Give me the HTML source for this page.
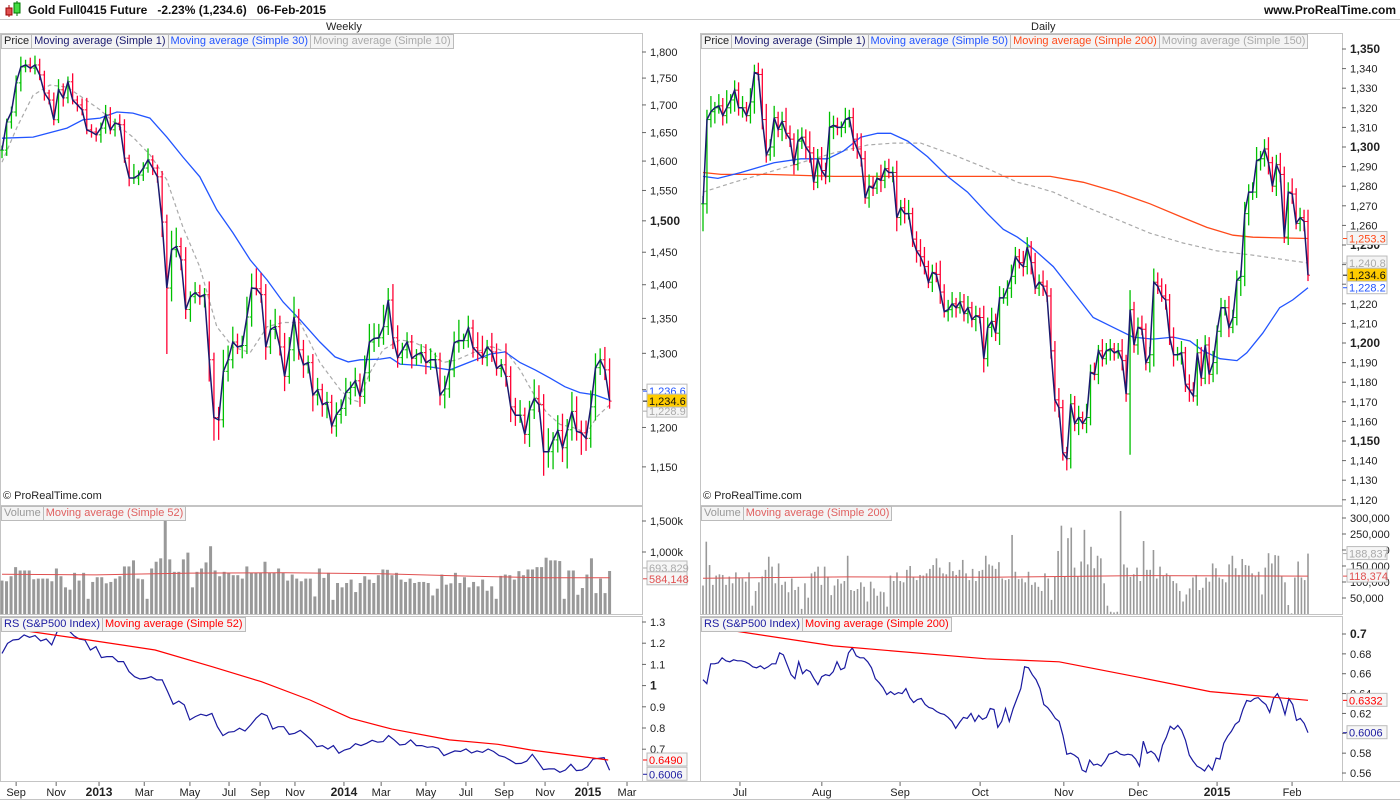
<!DOCTYPE html>
<html><head><meta charset="utf-8">
<style>
html,body{margin:0;padding:0;background:#fff;}
body{width:1400px;height:800px;position:relative;overflow:hidden;font-family:"Liberation Sans",sans-serif;}
.hdr{position:absolute;left:0;top:0;width:1400px;height:19px;border-bottom:1px solid #c8c8c8;}
.ttl{position:absolute;left:28px;top:3px;font-size:12px;font-weight:bold;color:#111;white-space:pre;}
.site{position:absolute;right:4px;top:3px;font-size:12px;font-weight:bold;color:#111;}
.ptitle{position:absolute;top:21px;font-size:11px;color:#222;}
.leg{position:absolute;font-size:11px;white-space:nowrap;height:13px;line-height:13px;}
.leg span{display:inline-block;border:1px solid #bbb;background:#f4f4f4;padding:0 2px;margin-right:-1px;}
.copy{position:absolute;font-size:11px;color:#222;}
svg{position:absolute;left:0;top:0;}
</style></head>
<body>
<div class="hdr">
  <svg width="20" height="19" style="left:4px;top:0">
    <line x1="5" y1="5" x2="5" y2="17" stroke="#a00"/><rect x="2" y="8" width="6" height="7" fill="#e05050" stroke="#900"/>
    <line x1="13" y1="1" x2="13" y2="16" stroke="#070"/><rect x="10" y="3" width="6" height="10" fill="#44dd44" stroke="#070"/>
  </svg>
  <div class="ttl">Gold Full0415 Future   -2.23% (1,234.6)   06-Feb-2015</div>
  <div class="site">www.ProRealTime.com</div>
</div>
<div class="ptitle" style="left:326px">Weekly</div>
<div class="ptitle" style="left:1031px">Daily</div>

<svg id="ch" width="1400" height="800"></svg>

<div class="leg" style="left:1px;top:34px"><span style="color:#222">Price</span><span style="color:#1a1a6e">Moving average (Simple 1)</span><span style="color:#2255ff">Moving average (Simple 30)</span><span style="color:#aaa">Moving average (Simple 10)</span></div>
<div class="leg" style="left:701px;top:34px"><span style="color:#222">Price</span><span style="color:#1a1a6e">Moving average (Simple 1)</span><span style="color:#2255ff">Moving average (Simple 50)</span><span style="color:#ff4a1a">Moving average (Simple 200)</span><span style="color:#aaa">Moving average (Simple 150)</span></div>
<div class="leg" style="left:1px;top:506px"><span style="color:#999">Volume</span><span style="color:#e06060">Moving average (Simple 52)</span></div>
<div class="leg" style="left:701px;top:506px"><span style="color:#999">Volume</span><span style="color:#e06060">Moving average (Simple 200)</span></div>
<div class="leg" style="left:1px;top:617px"><span style="color:#1a1aa0">RS (S&amp;P500 Index)</span><span style="color:#ff0000">Moving average (Simple 52)</span></div>
<div class="leg" style="left:701px;top:617px"><span style="color:#1a1aa0">RS (S&amp;P500 Index)</span><span style="color:#ff0000">Moving average (Simple 200)</span></div>
<div class="copy" style="left:3px;top:490px">© ProRealTime.com</div>
<div class="copy" style="left:703px;top:490px">© ProRealTime.com</div>

<script>
// ---------- WEEKLY DATA ----------
const wkClose=[1619,1669,1687,1741,1771,1775,1769,1775,1756,1722,1709,1673,1728,1713,1743,1709,1700,1691,1655,1651,1646,1658,1682,1655,1667,1664,1605,1571,1571,1576,1588,1602,1588,1573,1498,1395,1454,1459,1438,1363,1382,1388,1382,1385,1291,1213,1210,1275,1291,1316,1309,1311,1352,1395,1394,1385,1309,1334,1338,1309,1268,1305,1352,1305,1284,1287,1243,1250,1230,1233,1202,1217,1225,1246,1253,1262,1241,1273,1316,1321,1322,1338,1377,1322,1294,1305,1316,1293,1298,1301,1287,1291,1291,1243,1251,1277,1315,1318,1318,1336,1308,1301,1294,1309,1302,1279,1284,1268,1227,1216,1216,1191,1223,1238,1230,1169,1169,1184,1196,1174,1197,1221,1195,1193,1186,1227,1280,1291,1277,1234.6];
const wkUp=[8,6,10,14,20,10,14,18,12,8,6,14,20,12,10,16,8,12,22,10,8,10,18,14,8,16,10,6,24,8,10,20,8,6,10,12,30,30,14,20,8,16,12,10,20,10,14,30,20,22,12,14,30,22,30,24,16,14,26,16,20,18,30,12,14,10,12,16,8,14,10,16,12,20,8,18,10,24,26,22,20,32,18,24,18,10,14,10,8,12,12,16,10,10,18,14,16,30,10,18,12,22,24,10,20,12,8,30,14,12,20,10,12,26,18,14,30,10,20,22,14,26,20,14,16,22,20,16,18,16];
const wkDn=[14,10,12,8,16,10,8,12,10,14,8,10,6,16,10,8,12,10,8,10,12,14,10,8,12,10,8,14,10,12,10,8,12,10,24,96,20,12,16,14,18,10,12,16,30,30,26,10,14,12,10,16,12,14,10,12,18,10,14,12,20,10,16,14,18,12,22,14,16,18,10,14,12,10,16,12,14,10,12,14,12,10,12,16,14,10,12,14,10,12,16,10,12,14,18,12,10,14,12,10,14,12,10,12,14,10,12,14,20,14,10,12,16,12,10,30,20,22,16,18,26,14,12,28,16,12,18,10,14,10];
const wkMa30Idx=[0,6.6,13.8,17.2,20.8,24.4,27.8,31.4,35,38.4,42,45.6,49,52.7,56.3,59.7,63.3,67.5,70.7,73.5,76,80.3,82.4,84.5,88.7,93,95.1,99.4,103.6,106.8,110,113.2,116.3,119.5,122.7,125.9,128.7];
const wkMa30=[1640,1642,1658,1673,1676,1687,1685,1676,1642,1607,1573,1518,1481,1438,1407,1374,1348,1316,1295,1288,1291,1292,1294,1285,1283,1279,1277,1288,1299,1302,1287,1277,1266,1254,1246,1243,1236.6];
const wkMa10Idx=[0,3.2,6.6,10.2,13.8,17.2,20.8,24.4,27.8,31.4,35,38.4,42,45.6,49,52.7,56.3,59.7,63.3,67.5,71.8,73.9,75.6,78.1,80.9,84.5,87.3,90.9,93.6,96.6,100,104.2,107.2,110,112.7,115.7,118.5,121.2,124.2,126.3,128.9];
const wkMa10=[1598,1660,1718,1737,1733,1713,1691,1664,1642,1611,1568,1490,1427,1338,1309,1301,1338,1344,1344,1287,1250,1237,1234,1273,1305,1319,1316,1305,1287,1291,1301,1309,1301,1277,1246,1219,1204,1200,1193,1214,1228.9];
const wkVol=[539,528,609,756,702,702,702,560,571,571,571,528,734,609,430,392,664,539,664,245,517,593,593,495,517,571,609,767,767,865,571,560,245,734,843,898,1518,881,680,680,881,990,430,680,734,832,1093,702,609,680,664,626,626,571,767,664,664,664,843,664,664,734,664,539,636,571,528,571,571,283,734,582,664,228,500,430,500,555,354,500,609,555,500,626,718,713,626,664,555,517,571,500,517,517,500,299,408,636,473,495,664,500,593,430,517,446,555,375,446,245,615,636,626,555,691,626,718,718,756,756,908,865,865,854,245,702,702,310,419,636,898,337,571,337,693.8];
const wkVolMaIdx=[0,20,40,60,80,100,115,129];
const wkVolMa=[640,630,660,665,650,610,585,584];
const wkRs=[1.152,1.199,1.215,1.218,1.239,1.228,1.236,1.211,1.220,1.192,1.255,1.267,1.262,1.236,1.220,1.215,1.168,1.184,1.132,1.137,1.137,1.113,1.113,1.066,1.042,1.031,1.034,1.042,1.027,1.027,0.971,0.912,0.927,0.909,0.838,0.854,0.865,0.858,0.869,0.806,0.764,0.780,0.783,0.799,0.786,0.814,0.846,0.869,0.858,0.795,0.806,0.806,0.770,0.775,0.789,0.767,0.744,0.712,0.717,0.701,0.717,0.681,0.696,0.704,0.726,0.717,0.728,0.742,0.733,0.736,0.764,0.744,0.720,0.723,0.744,0.717,0.717,0.709,0.712,0.704,0.670,0.681,0.692,0.689,0.701,0.682,0.692,0.685,0.701,0.689,0.670,0.663,0.648,0.632,0.633,0.644,0.676,0.641,0.604,0.607,0.607,0.591,0.602,0.629,0.599,0.602,0.618,0.654,0.657,0.660,0.6006];
const wkRsMaIdx=[5,17,32.5,44.6,55,65.4,74,82.8,95,105.3,112.3,128.7];
const wkRsMa=[1.258,1.220,1.168,1.089,1.019,0.932,0.846,0.795,0.744,0.723,0.696,0.649];
const wkPriceTicks=[1150,1200,1250,1300,1350,1400,1450,1500,1550,1600,1650,1700,1750,1800];
const wkVolTicks=[1000,1500];
const wkRsTicks=[0.7,0.8,0.9,1,1.1,1.2,1.3];
const wkDateLabels=["Sep","Nov","2013","Mar","May","Jul","Sep","Nov","2014","Mar","May","Jul","Sep","Nov","2015","Mar"];
const wkDateIdx=[3.0,11.5,20.6,30.2,39.9,48.2,54.8,62.2,72.6,80.5,90.0,98.5,106.6,115.3,124.4,132.7];

// ---------- DAILY DATA ----------
const dyClose=[1271,1314,1318,1320,1321,1316,1320,1324,1329,1320,1320,1316,1323,1338,1337,1314,1296,1300,1315,1309,1313,1307,1304,1291,1303,1305,1300,1297,1282,1294,1288,1285,1310,1311,1310,1310,1314,1315,1304,1299,1294,1274,1280,1279,1284,1283,1289,1287,1287,1264,1269,1266,1266,1253,1247,1244,1239,1231,1236,1235,1226,1216,1217,1220,1218,1221,1215,1218,1212,1214,1213,1192,1208,1211,1205,1223,1223,1228,1234,1244,1241,1239,1249,1241,1228,1231,1229,1224,1196,1171,1167,1144,1141,1169,1159,1162,1159,1162,1185,1184,1196,1192,1196,1197,1195,1196,1191,1174,1217,1199,1208,1207,1190,1194,1231,1229,1224,1222,1203,1194,1194,1195,1179,1176,1173,1195,1182,1199,1184,1190,1206,1218,1218,1208,1213,1232,1234,1266,1277,1277,1293,1294,1299,1292,1280,1291,1286,1254,1277,1276,1261,1264,1262,1234.6];
const dyUp=[4,5,8,3,6,4,9,3,5,4,6,3,7,4,5,3,8,4,6,3,5,7,4,3,6,5,4,8,3,5,6,4,8,5,4,3,6,4,5,3,8,4,6,5,3,7,4,5,3,6,4,5,7,3,4,6,5,3,4,5,7,4,5,6,3,5,4,6,3,5,4,6,5,7,4,6,5,4,6,5,4,6,5,3,5,4,6,3,4,5,6,4,3,5,4,6,3,7,4,5,3,6,4,5,3,4,6,3,10,4,5,6,3,4,7,5,4,6,3,5,4,6,3,5,4,7,3,5,4,6,3,5,4,6,4,5,3,6,4,5,7,4,5,6,3,5,6,4,5,7,3,5,4,6];
const dyDn=[14,5,4,6,3,5,4,3,6,4,5,3,4,6,3,5,4,3,5,4,6,3,4,5,3,4,6,5,4,3,5,4,3,6,4,5,3,4,6,5,4,3,5,4,3,6,4,3,5,7,4,5,3,4,6,5,4,3,5,4,6,3,5,4,5,3,4,5,4,6,3,7,4,5,4,6,3,4,5,4,3,5,4,6,3,4,5,3,4,6,5,4,6,5,4,6,3,5,4,3,5,4,3,5,4,3,5,4,31,4,5,3,4,5,6,4,3,5,4,6,3,5,4,6,3,5,4,3,5,4,6,3,4,5,3,4,8,5,6,4,3,5,4,6,3,5,4,3,4,5,3,4,5,3];
const dyMa50Idx=[0,4.1,10.5,16,19.6,27,34.4,38.8,43.5,48.2,51.8,56.5,62,67.5,73,78.5,82.9,86.8,91.2,96.7,102.2,107.7,113.2,118.7,124.2,129.8,134.4,138,142.7,147.4,150.1,154.5,159.2,162.8,167];
const dyMa50=[1285,1284,1287,1290,1292,1294,1294,1298,1305,1307,1307,1303,1295,1285,1277,1266,1258,1254,1248,1239,1226,1213,1208,1203,1202,1203,1201,1196,1192,1191,1195,1205,1218,1222,1228.2];
const dyMa200Idx=[0,5,17.9,36.1,54.5,87.6,95.9,105,114.3,123.4,132.5,139.1,146.3,151.8,167];
const dyMa200=[1287,1286,1286,1285,1285,1285,1285,1282,1277,1271,1264,1259,1255,1254,1253.3];
const dyMa150Idx=[0,8.5,17.9,27,36.1,45.5,52.6,60.1,69.1,78.5,86.8,91.2,96.7,105,114.3,123.4,132.5,141.9,151,167];
const dyMa150=[1277,1282,1287,1292,1297,1301,1302,1302,1296,1289,1282,1280,1277,1270,1263,1256,1251,1247,1245,1240.8];
const dyVol=[89,226,153,91,120,124,122,91,117,96,130,114,111,101,130,26,72,99,117,138,179,148,96,158,91,101,68,111,75,85,16,96,51,127,132,148,91,148,117,59,89,109,95,103,182,75,72,78,99,85,39,101,80,57,70,68,23,120,103,130,103,99,138,150,114,106,122,120,127,141,153,174,145,127,124,162,134,122,138,169,127,106,141,103,134,138,182,155,151,141,162,111,106,109,247,132,109,111,99,132,91,99,85,72,127,111,44,117,197,276,117,237,270,145,117,164,263,155,210,143,182,174,96,26,7,5,7,322,155,145,116,124,145,103,228,138,138,200,111,148,120,127,120,103,96,72,39,61,80,114,122,75,82,114,101,158,143,114,109,99,155,182,143,122,172,153,151,127,117,132,61,145,190,158,184,182,117,99,28,2,114,164,114,106,188.8];
const dyVolMaIdx=[0,40,80,120,167];
const dyVolMa=[112,116,115,120,118.4];
const dyRs=[0.654,0.650,0.670,0.670,0.671,0.676,0.673,0.672,0.674,0.673,0.673,0.672,0.670,0.667,0.666,0.668,0.665,0.667,0.670,0.670,0.681,0.679,0.669,0.659,0.655,0.672,0.660,0.664,0.662,0.655,0.649,0.657,0.659,0.658,0.662,0.672,0.664,0.666,0.681,0.686,0.678,0.676,0.676,0.672,0.666,0.655,0.651,0.646,0.639,0.642,0.639,0.641,0.640,0.645,0.636,0.631,0.634,0.635,0.629,0.626,0.625,0.622,0.620,0.619,0.616,0.612,0.605,0.611,0.616,0.615,0.620,0.612,0.618,0.614,0.616,0.625,0.624,0.606,0.612,0.625,0.612,0.625,0.635,0.645,0.667,0.666,0.659,0.654,0.645,0.629,0.626,0.621,0.615,0.612,0.598,0.579,0.580,0.578,0.575,0.563,0.561,0.573,0.568,0.569,0.567,0.572,0.579,0.580,0.582,0.579,0.578,0.579,0.578,0.574,0.567,0.592,0.580,0.582,0.579,0.572,0.588,0.596,0.607,0.604,0.608,0.603,0.593,0.578,0.572,0.567,0.565,0.562,0.568,0.563,0.575,0.574,0.590,0.597,0.602,0.609,0.612,0.624,0.633,0.632,0.635,0.636,0.632,0.629,0.621,0.635,0.640,0.632,0.619,0.635,0.629,0.613,0.615,0.610,0.6006];
const dyRsMaIdx=[8.8,36,78.2,98.3,120.9,140,167];
const dyRsMa=[0.703,0.688,0.675,0.672,0.656,0.642,0.6332];
const dyPriceTicks=[1120,1130,1140,1150,1160,1170,1180,1190,1200,1210,1220,1230,1240,1250,1260,1270,1280,1290,1300,1310,1320,1330,1340,1350];
const dyVolTicks=[50,100,150,200,250,300];
const dyRsTicks=[0.56,0.58,0.6,0.62,0.64,0.66,0.68,0.7];
const dyDateLabels=["Jul","Aug","Sep","Oct","Nov","Dec","2015","Feb"];
const dyDateIdx=[10.2,32.8,54.4,76.5,99.6,120.1,141.9,162.6];

// ---------- AXES ----------
const xW=i=>2+i*4.71;
const yWP=v=>52+926*Math.log(1800/v);
const yWV=v=>614-v*0.062;
const yWR=v=>622+(1.3-v)*212;
const xD=i=>703+i*605/167;
const yDP=v=>49+(1350-v)*1.96;
const yDV=v=>614-v*0.32;
const yDR=v=>634+(0.7-v)*993;

const NS="http://www.w3.org/2000/svg";
const svg=document.getElementById('ch');
function add(p,tag,a){const e=document.createElementNS(NS,tag);for(const k in a)e.setAttribute(k,a[k]);p.appendChild(e);return e;}
function grp(name){const g=add(svg,'g',{});return g;}
const fmt=(v,d)=>v.toLocaleString('en-US',{minimumFractionDigits:d,maximumFractionDigits:d});

// frames
const frames=[[0,33,642,472,'weekly-price-pane'],[0,506,642,108,'weekly-volume-pane'],[0,616,642,165,'weekly-rs-pane'],
[700,33,642,472,'daily-price-pane'],[700,506,642,108,'daily-volume-pane'],[700,616,642,165,'daily-rs-pane']];
for(const f of frames){
  const r=add(svg,'rect',{x:f[0]+0.5,y:f[1]+0.5,width:f[2],height:f[3],fill:'#fff',stroke:'#c4c4c4'});
  
  
}
add(svg,'line',{x1:0,y1:781.5,x2:1400,y2:781.5,stroke:'#c4c4c4'});
add(svg,'line',{x1:0,y1:799.5,x2:1400,y2:799.5,stroke:'#c4c4c4'});

function yTicks(g,ticks,yf,x0,lab,boldSet,dec){
  for(const t of ticks){
    const y=yf(t);
    add(g,'line',{x1:x0,y1:y,x2:x0+4,y2:y,stroke:'#666'});
    const tx=add(g,'text',{x:x0+8,y:y+4,'font-size':bold(t)?12:11,'font-weight':bold(t)?'bold':'normal',fill:'#222','font-family':'Liberation Sans, sans-serif'});
    tx.textContent=lab(t);
    
    
  }
  function bold(t){return boldSet.includes(t);}
}
function xTicks(g,labels,idx,xf){
  labels.forEach((l,i)=>{
    const x=xf(idx[i]);
    add(g,'line',{x1:x,y1:782,x2:x,y2:786,stroke:'#666'});
    const b=/^\d{4}$/.test(l);
    const t=add(g,'text',{x:x,y:796,'text-anchor':'middle','font-size':b?12:11,'font-weight':b?'bold':'normal',fill:'#222','font-family':'Liberation Sans, sans-serif'});
    t.textContent=l;
    
    
  });
}
function line(g,idx,vals,xf,yf,st,name){
  const pts=vals.map((v,i)=>xf(idx?idx[i]:i).toFixed(1)+','+yf(v).toFixed(1)).join(' ');
  const p=add(g,'polyline',Object.assign({points:pts,fill:'none'},st));
  
  
}
function bars(g,closes,up,dn,xf,yf,step,name){
  const n=closes.length;
  closes.forEach((c,i)=>{
    const o=i>0?closes[i-1]:c;
    const hi=Math.max(o,c)+(up[i]||4), lo=Math.min(o,c)-(dn[i]||4);
    const x=xf(i*step);
    const col=c>=o?'#00c000':'#ff0033';
    const b=add(g,'line',{x1:x,y1:yf(hi),x2:x,y2:yf(lo),stroke:col,'stroke-width':1.3});
    
    
    add(g,'line',{x1:x-2,y1:yf(o),x2:x,y2:yf(o),stroke:col});
    add(g,'line',{x1:x,y1:yf(c),x2:x+2,y2:yf(c),stroke:col});
  });
}
function volBars(g,vals,xf,yf,span,w,name){
  vals.forEach((v,i)=>{
    const x=xf(i*span/(vals.length-1));
    const r=add(g,'rect',{x:x-w/2,y:yf(v),width:w,height:Math.max(0,yf(0)-yf(v)),fill:'#999'});
    
    
  });
}
function badge(g,x,y,txt,fg,bg,name){
  const r=add(g,'rect',{x:x,y:y-7,width:40,height:13,fill:bg,stroke:'#bbb'});
  const t=add(g,'text',{x:x+2,y:y+4,'font-size':11,fill:fg,'font-family':'Liberation Sans, sans-serif'});
  t.textContent=txt;
  
  
  add(g,'line',{x1:x-4,y1:y,x2:x,y2:y,stroke:fg});
}

// ---- WEEKLY ----
const gw=grp('weekly-chart');
yTicks(gw,wkPriceTicks,yWP,642,t=>fmt(t,0),[1500],0);
yTicks(gw,wkVolTicks,yWV,642,t=>fmt(t,0)+'k',[],0);
yTicks(gw,wkRsTicks,yWR,642,t=>String(t),[1],0);
xTicks(gw,wkDateLabels,wkDateIdx,xW);
const wkStep=129/(wkClose.length-1);
line(gw,wkMa10Idx,wkMa10,xW,yWP,{stroke:'#aaa','stroke-width':1.2,'stroke-dasharray':'4,3'},'weekly-ma10-line');
line(gw,wkMa30Idx,wkMa30,xW,yWP,{stroke:'#2255ff','stroke-width':1.3},'weekly-ma30-line');
bars(gw,wkClose,wkUp,wkDn,xW,yWP,wkStep,'weekly-price-bar');
line(gw,wkClose.map((v,i)=>i*wkStep),wkClose,xW,yWP,{stroke:'#1a1a6e','stroke-width':1.5},'weekly-close-line');
volBars(gw,wkVol,xW,yWV,129,3,'weekly-volume-bar');
line(gw,wkVolMaIdx,wkVolMa,xW,yWV,{stroke:'#e05050','stroke-width':1},'weekly-volume-ma-line');
line(gw,wkRs.map((v,i)=>i*129/(wkRs.length-1)),wkRs,xW,yWR,{stroke:'#1a1aa0','stroke-width':1.2},'weekly-rs-line');
line(gw,wkRsMaIdx,wkRsMa,xW,yWR,{stroke:'#ff0000','stroke-width':1.2},'weekly-rs-ma-line');
const lw=wkClose[wkClose.length-1];
badge(gw,647,yWP(lw)-10,fmt(wkMa30[wkMa30.length-1],1),'#2255ff','#fff','weekly-ma30-badge');
badge(gw,647,yWP(lw)+10,fmt(wkMa10[wkMa10.length-1],1),'#aaa','#f4f4f4','weekly-ma10-badge');
badge(gw,647,yWP(lw),fmt(lw,1),'#111','#ffcc00','weekly-price-badge');
badge(gw,647,yWV(wkVol[wkVol.length-1])-3,'693,829','#aaa','#f6f6f6','weekly-volume-badge');
badge(gw,647,yWV(wkVolMa[wkVolMa.length-1])+1,'584,148','#e05050','#f6f6f6','weekly-volume-ma-badge');
badge(gw,647,yWR(wkRsMa[wkRsMa.length-1]),wkRsMa[wkRsMa.length-1].toFixed(4),'#ff0000','#f6f6f6','weekly-rs-ma-badge');
badge(gw,647,yWR(wkRs[wkRs.length-1])+4,wkRs[wkRs.length-1].toFixed(4),'#1a1aa0','#f6f6f6','weekly-rs-badge');

// ---- DAILY ----
const gd=grp('daily-chart');
yTicks(gd,dyPriceTicks,yDP,1342,t=>fmt(t,0),[1150,1200,1250,1300,1350],0);
yTicks(gd,dyVolTicks,yDV,1342,t=>fmt(t*1000,0),[],0);
yTicks(gd,dyRsTicks,yDR,1342,t=>String(t),[0.7],0);
xTicks(gd,dyDateLabels,dyDateIdx,xD);
const dyStep=167/(dyClose.length-1);
line(gd,dyMa150Idx,dyMa150,xD,yDP,{stroke:'#aaa','stroke-width':1.2,'stroke-dasharray':'4,3'},'daily-ma150-line');
line(gd,dyMa200Idx,dyMa200,xD,yDP,{stroke:'#ff4a1a','stroke-width':1.3},'daily-ma200-line');
line(gd,dyMa50Idx,dyMa50,xD,yDP,{stroke:'#2255ff','stroke-width':1.3},'daily-ma50-line');
bars(gd,dyClose,dyUp,dyDn,xD,yDP,dyStep,'daily-price-bar');
line(gd,dyClose.map((v,i)=>i*dyStep),dyClose,xD,yDP,{stroke:'#1a1a6e','stroke-width':1.5},'daily-close-line');
volBars(gd,dyVol,xD,yDV,167,1.6,'daily-volume-bar');
line(gd,dyVolMaIdx,dyVolMa,xD,yDV,{stroke:'#e05050','stroke-width':1},'daily-volume-ma-line');
line(gd,dyRs.map((v,i)=>i*167/(dyRs.length-1)),dyRs,xD,yDR,{stroke:'#1a1aa0','stroke-width':1.2},'daily-rs-line');
line(gd,dyRsMaIdx,dyRsMa,xD,yDR,{stroke:'#ff0000','stroke-width':1.2},'daily-rs-ma-line');
badge(gd,1347,yDP(dyMa200[dyMa200.length-1]),fmt(dyMa200[dyMa200.length-1],1),'#ff4a1a','#f4f4f4','daily-ma200-badge');
badge(gd,1347,yDP(dyMa150[dyMa150.length-1]),fmt(dyMa150[dyMa150.length-1],1),'#aaa','#f4f4f4','daily-ma150-badge');
badge(gd,1347,yDP(dyMa50[dyMa50.length-1]),fmt(dyMa50[dyMa50.length-1],1),'#2255ff','#fff','daily-ma50-badge');
badge(gd,1347,yDP(dyClose[dyClose.length-1]),fmt(dyClose[dyClose.length-1],1),'#111','#ffcc00','daily-price-badge');
badge(gd,1347,yDV(dyVol[dyVol.length-1]),'188,837','#aaa','#f6f6f6','daily-volume-badge');
badge(gd,1347,yDV(dyVolMa[dyVolMa.length-1]),'118,374','#e05050','#f6f6f6','daily-volume-ma-badge');
badge(gd,1347,yDR(dyRsMa[dyRsMa.length-1]),dyRsMa[dyRsMa.length-1].toFixed(4),'#ff0000','#f6f6f6','daily-rs-ma-badge');
badge(gd,1347,yDR(dyRs[dyRs.length-1]),dyRs[dyRs.length-1].toFixed(4),'#1a1aa0','#f6f6f6','daily-rs-badge');
</script>
</body></html>
